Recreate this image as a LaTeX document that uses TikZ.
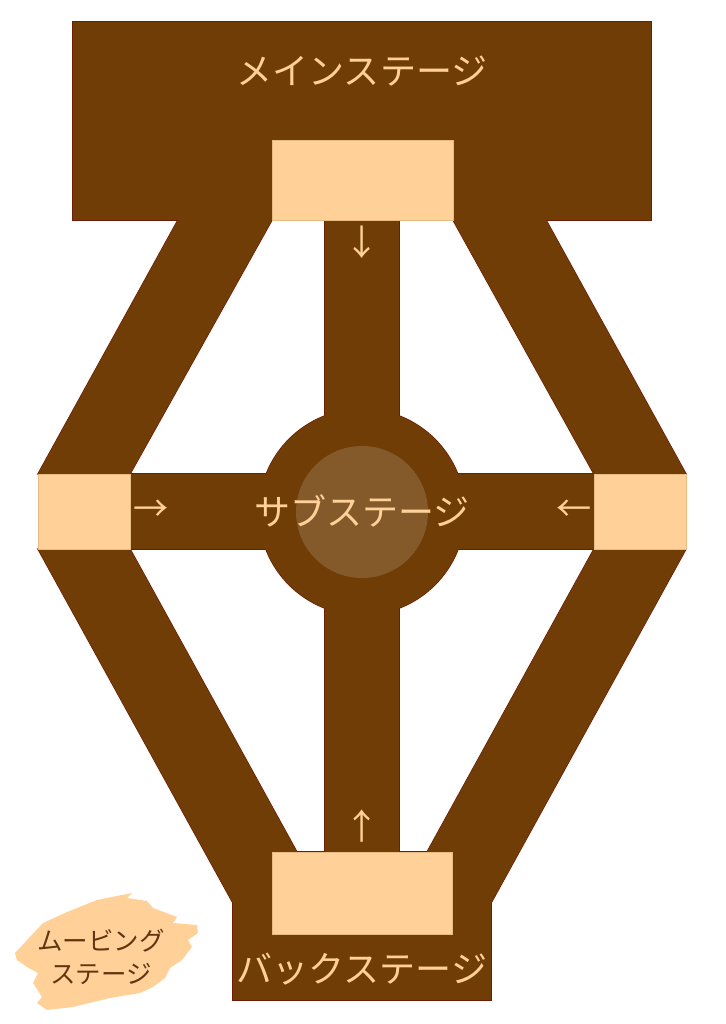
\documentclass[tikz,border=0pt]{standalone}
\usepackage{fontspec}
\usepackage{xcolor}
\newfontfamily\jpfont{Noto Sans CJK JP}
\usetikzlibrary{positioning}
\definecolor{stagebrown}{RGB}{111,61,5}
\definecolor{stagepeach}{RGB}{255,209,153}
\definecolor{edgered}{RGB}{112,28,6}
\definecolor{subcenter}{RGB}{132,90,43}
\definecolor{movingtext}{RGB}{98,52,16}

\begin{document}
\begin{tikzpicture}[x=0.02cm, y=-0.02cm,
    floor/.style={fill=stagebrown, draw=edgered, line width=0.8pt},
    floorfill/.style={fill=stagebrown},
    lift/.style={fill=stagepeach, draw=stagepeach!85!stagebrown, line width=0.4pt},
    stagelabel/.style={text=stagepeach, font=\jpfont\fontsize{20.5}{24}\selectfont, inner sep=0pt},
    arrowlabel/.style={text=stagepeach, font=\jpfont\fontsize{20}{24}\selectfont, inner sep=0pt}]
    \useasboundingbox (0,0) rectangle (725,1024);

    % floor: outline pass, then fill pass
    \foreach \pass in {floor, floorfill} {
        \foreach \piece in {
            {(73,22) rectangle (651,220)},
            {(178,220) -- (272,220) -- (130,474) -- (38,474) -- cycle},
            {(453,220) -- (546,220) -- (686,474) -- (594,474) -- cycle},
            {(38,549) -- (130,549) -- (325,903) -- (233,903) -- cycle},
            {(594,549) -- (686,549) -- (491,903) -- (399,903) -- cycle},
            {(233,852) rectangle (491,1000)},
            {(325,220) rectangle (399,852)},
            {(130,474) rectangle (594,549)},
            {(362,512) circle (103)}} {
            \path[\pass] \piece;
        }
    }
    \fill[subcenter] (362,512) circle (66);

    % lifts
    \path[lift] (272,140) rectangle (453,220);
    \path[lift] (38,474) rectangle (130,549);
    \path[lift] (594,474) rectangle (686,549);
    \path[lift] (272,852) rectangle (452,934);

    % labels
    \node[stagelabel] (mainlabel) at (362,71) {メインステージ};
    \node[stagelabel] (sublabel) at (362,511) {サブステージ};
    \node[stagelabel] (backlabel) at (362,969) {バックステージ};

    \node[arrowlabel] (downarrow) at (362,242) {↓};
    \node[arrowlabel] (uparrow) at (362,826) {↑};
    \node[arrowlabel] (rightarrow) at (151,511) {→};
    \node[arrowlabel] (leftarrow) at (574,511) {←};

    % moving stage
    \fill[stagepeach] (15,953) -- (43,923) -- (67,912) -- (97,900) -- (132,893)
        -- (127,898) -- (147,901) -- (153,908) -- (177,917) -- (173,923)
        -- (197,925) -- (198,933) -- (188,940) -- (192,947) -- (182,960)
        -- (170,968) -- (165,978) -- (153,987) -- (140,993) -- (110,998)
        -- (73,1007) -- (47,1010) -- (37,1003) -- (42,997) -- (33,983)
        -- (38,973) -- (27,967) -- (17,960) -- cycle;
    \node[text=movingtext, align=center, inner sep=0pt,
        font=\jpfont\fontsize{14.5}{19}\selectfont] (movinglabel) at (101,957) {ムービング\\ステージ};
\end{tikzpicture}
\end{document}
